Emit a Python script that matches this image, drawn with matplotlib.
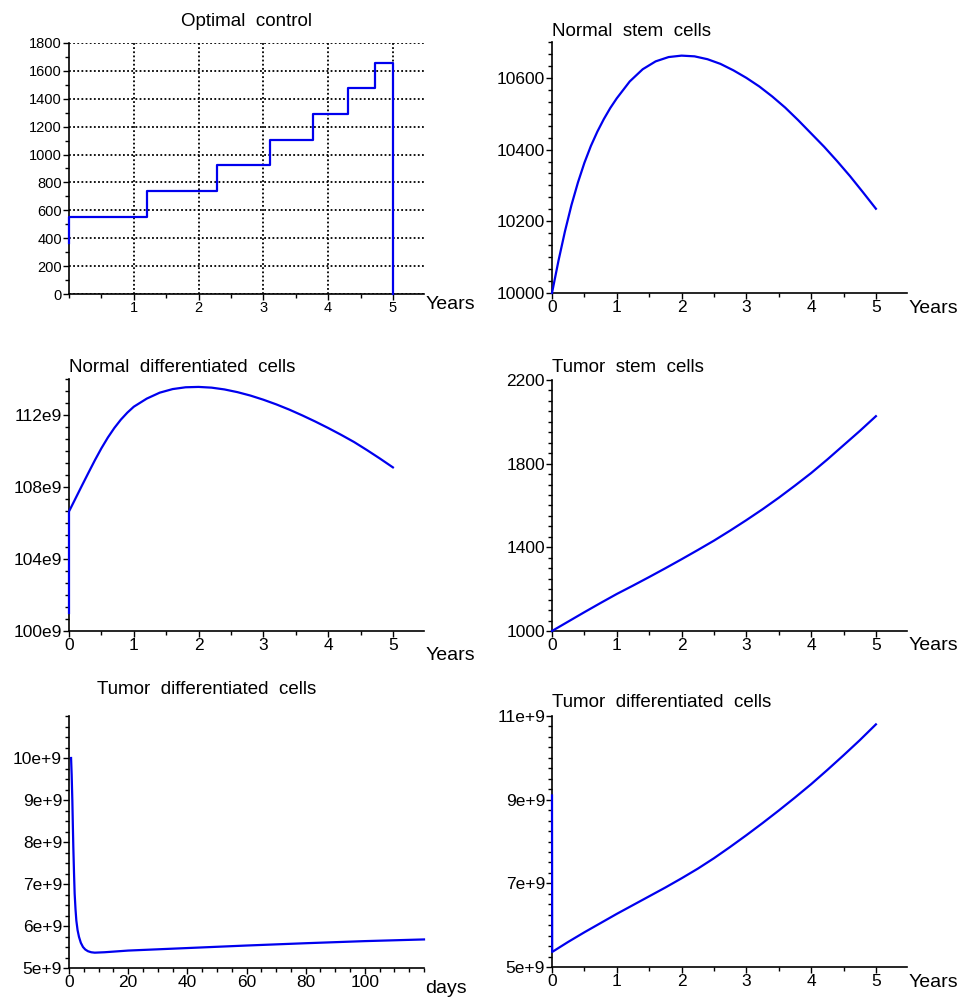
import numpy as np
import matplotlib
matplotlib.use("Agg")
import matplotlib.pyplot as plt
from matplotlib.ticker import MultipleLocator, FixedLocator, FuncFormatter

plt.rcParams['font.family'] = ['Liberation Sans', 'DejaVu Sans']

BLUE = '#0000ee'

# optimal control (piecewise constant)
ctrl_t = [0, 0, 1.20, 1.20, 2.28, 2.28, 3.11, 3.11, 3.76, 3.76, 4.30, 4.30, 4.73, 4.73, 5.0, 5.0]
ctrl_u = [365, 552, 552, 737, 737, 922, 922, 1106, 1106, 1288, 1288, 1474, 1474, 1660, 1660, 0]

# normal stem cells
ns_t = [0, 0.1, 0.2, 0.3, 0.4, 0.5, 0.6, 0.7, 0.8, 0.9, 1.0, 1.2, 1.4, 1.6, 1.8, 2.0,
        2.2, 2.4, 2.6, 2.8, 3.0, 3.2, 3.4, 3.6, 3.8, 4.0, 4.2, 4.4, 4.6, 4.8, 5.0]
ns_v = [10000, 10090, 10172, 10245, 10308, 10363, 10410, 10450, 10485, 10516, 10543,
        10590, 10624, 10646, 10658, 10662, 10660, 10652, 10639, 10621, 10600, 10576,
        10548, 10517, 10482, 10445, 10408, 10368, 10326, 10281, 10235]

# normal differentiated cells (e9)
nd_t = [0, 0, 0.1, 0.2, 0.3, 0.4, 0.5, 0.6, 0.7, 0.8, 0.9, 1.0, 1.2, 1.4, 1.6, 1.8, 2.0,
        2.2, 2.4, 2.6, 2.8, 3.0, 3.2, 3.4, 3.6, 3.8, 4.0, 4.2, 4.4, 4.6, 4.8, 5.0]
nd_v = [101.0, 106.64, 107.36, 108.08, 108.79, 109.49, 110.15, 110.75, 111.28, 111.74,
        112.13, 112.46, 112.91, 113.24, 113.44, 113.54, 113.56, 113.52, 113.42, 113.27,
        113.08, 112.85, 112.59, 112.30, 111.98, 111.64, 111.28, 110.90, 110.50, 110.05,
        109.58, 109.09]

# tumor stem cells
ts_t = [0, 0.25, 0.5, 0.75, 1.0, 1.25, 1.5, 1.75, 2.0, 2.25, 2.5, 2.75, 3.0, 3.25, 3.5,
        3.75, 4.0, 4.25, 4.5, 4.75, 5.0]
ts_v = [1000, 1045, 1090, 1134, 1177, 1217, 1258, 1300, 1343, 1387, 1432, 1480, 1530,
        1582, 1637, 1695, 1755, 1820, 1888, 1956, 2027]

# tumor differentiated cells, first days (e9)
td_days = [0.7, 0.9, 1.13, 1.3, 1.46, 1.7, 1.91, 2.2, 2.48, 2.9, 3.38, 4.0, 4.73, 5.5,
           6.4, 7.5, 8.7, 12, 15, 20, 40, 60, 80, 100, 120]
td_days_v = [10.0, 9.6, 8.99, 8.4, 7.88, 7.25, 6.77, 6.4, 6.13, 5.9, 5.74, 5.6, 5.5, 5.44,
             5.40, 5.375, 5.365, 5.375, 5.39, 5.415, 5.475, 5.535, 5.59, 5.64, 5.68]

# tumor differentiated cells, years (e9)
td_t = [0, 0.003, 0.25, 0.5, 0.75, 1.0, 1.25, 1.5, 1.75, 2.0, 2.25, 2.5, 2.75, 3.0, 3.25,
        3.5, 3.75, 4.0, 4.25, 4.5, 4.75, 5.0]
td_v = [9.1, 5.36, 5.6, 5.83, 6.05, 6.27, 6.48, 6.69, 6.90, 7.12, 7.35, 7.6, 7.87, 8.15,
        8.44, 8.74, 9.05, 9.37, 9.71, 10.06, 10.42, 10.80]

fig = plt.figure(figsize=(9.59, 9.97), dpi=100)
W, H = 959, 997


def make_ax(left, right, top, bottom):
    return fig.add_axes([left / W, (H - bottom) / H, (right - left) / W, (bottom - top) / H])


def style(ax, fs=12.5):
    for s in ['top', 'right']:
        ax.spines[s].set_visible(False)
    for s in ['left', 'bottom']:
        ax.spines[s].set_linewidth(1.2)
    ax.tick_params(which='major', direction='out', length=4, width=1, labelsize=fs, pad=1)
    ax.tick_params(which='minor', direction='out', length=3, width=1)


def curve(ax, x, y):
    ax.plot(x, y, color=BLUE, lw=1.6, zorder=3, clip_on=False)


def years_axis(ax):
    ax.set_xlim(0, 5.48)
    ax.xaxis.set_major_locator(FixedLocator([0, 1, 2, 3, 4, 5]))
    ax.xaxis.set_minor_locator(MultipleLocator(0.5))


def title(ax, text, dx, dy_px, h_px):
    ax.text(dx, 1.0 + dy_px / h_px, text, transform=ax.transAxes, ha='left', va='center', fontsize=13.5)


def xlab(ax, text, dy, fs=14):
    ax.text(1.003, dy, text, transform=ax.transAxes, ha='left', va='center', fontsize=fs)


e9 = FuncFormatter(lambda v, p: '%de9' % round(v))
e9p = FuncFormatter(lambda v, p: '%de+9' % round(v))

# --- Optimal control
ax1 = make_ax(69, 424, 43, 294)
curve(ax1, ctrl_t, ctrl_u)
ax1.set_xlim(0, 5.48)
ax1.set_ylim(0, 1800)
ax1.xaxis.set_major_locator(FixedLocator([1, 2, 3, 4, 5]))
ax1.xaxis.set_minor_locator(MultipleLocator(0.5))
ax1.yaxis.set_major_locator(MultipleLocator(200))
ax1.yaxis.set_minor_locator(MultipleLocator(100))
style(ax1, fs=10.5)
ax1.grid(True, which='major', color='black', linestyle=(0, (1, 1.3)), linewidth=1.3)
ax1.set_title('Optimal  control', fontsize=13.5, pad=12)
xlab(ax1, 'Years', -0.04)

# --- Normal stem cells
ax2 = make_ax(552, 907, 42, 293)
curve(ax2, ns_t, ns_v)
years_axis(ax2)
ax2.set_ylim(10000, 10700)
ax2.yaxis.set_major_locator(FixedLocator([10000, 10200, 10400, 10600]))
ax2.yaxis.set_minor_locator(MultipleLocator(200 / 6))
style(ax2)
title(ax2, 'Normal  stem  cells', 0, 11, 251)
xlab(ax2, 'Years', -0.06)

# --- Normal differentiated cells
ax3 = make_ax(69, 424, 379, 631)
curve(ax3, nd_t, nd_v)
years_axis(ax3)
ax3.set_ylim(100, 114)
ax3.yaxis.set_major_locator(FixedLocator([100, 104, 108, 112]))
ax3.yaxis.set_minor_locator(MultipleLocator(4 / 6))
ax3.yaxis.set_major_formatter(e9)
style(ax3)
title(ax3, 'Normal  differentiated  cells', 0, 12, 252)
xlab(ax3, 'Years', -0.097)

# --- Tumor stem cells
ax4 = make_ax(552, 907, 380, 631)
curve(ax4, ts_t, ts_v)
years_axis(ax4)
ax4.set_ylim(1000, 2200)
ax4.yaxis.set_major_locator(FixedLocator([1000, 1400, 1800, 2200]))
ax4.yaxis.set_minor_locator(MultipleLocator(50))
style(ax4)
title(ax4, 'Tumor  stem  cells', 0, 13, 251)
xlab(ax4, 'Years', -0.058)

# --- Tumor differentiated cells (days)
ax5 = make_ax(69, 424, 716, 968)
curve(ax5, td_days, td_days_v)
ax5.set_xlim(0, 120)
ax5.set_ylim(5, 11)
ax5.xaxis.set_major_locator(FixedLocator([0, 20, 40, 60, 80, 100]))
ax5.xaxis.set_minor_locator(MultipleLocator(5))
ax5.yaxis.set_major_locator(FixedLocator([5, 6, 7, 8, 9, 10]))
ax5.yaxis.set_minor_locator(MultipleLocator(0.25))
ax5.yaxis.set_major_formatter(e9p)
style(ax5)
title(ax5, 'Tumor  differentiated  cells', 28 / 355, 27, 252)
xlab(ax5, 'days', -0.08)

# --- Tumor differentiated cells (years)
ax6 = make_ax(552, 907, 716, 967)
curve(ax6, td_t, td_v)
years_axis(ax6)
ax6.set_ylim(5, 11)
ax6.yaxis.set_major_locator(FixedLocator([5, 7, 9, 11]))
ax6.yaxis.set_minor_locator(MultipleLocator(0.25))
ax6.yaxis.set_major_formatter(e9p)
style(ax6)
title(ax6, 'Tumor  differentiated  cells', 0, 14, 251)
xlab(ax6, 'Years', -0.06)

fig.savefig('out.png', dpi=100)
